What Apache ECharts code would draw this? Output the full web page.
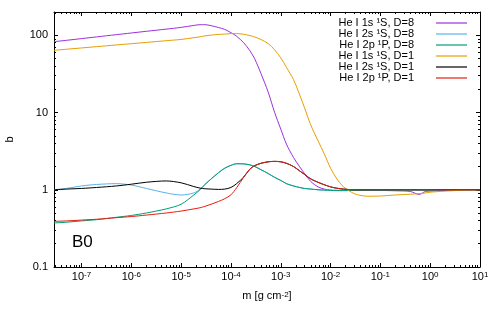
<!DOCTYPE html>
<html><head><meta charset="utf-8">
<script src="https://cdn.jsdelivr.net/npm/echarts@6/dist/echarts.min.js"></script>
<style>html,body{margin:0;padding:0;background:#fff}#c{width:500px;height:314px}</style>
</head><body><div id="c"></div>
<script>
const mass = [2.8e-8, 5e-8, 1e-7, 2e-7, 5e-7, 1e-6, 2e-6, 5e-6, 1e-5, 1.8e-5, 2.4e-5, 3e-5, 4e-5, 5.6e-5, 7.5e-5, 1e-4, 1.3e-4, 1.8e-4, 2.4e-4, 3e-4, 4e-4, 5.6e-4, 7.5e-4, 1e-3, 1.3e-3, 1.8e-3, 2.4e-3, 3e-3, 4e-3, 5.6e-3, 7.5e-3, 1e-2, 1.3e-2, 1.8e-2, 3e-2, 5.6e-2, 1e-1, 2e-1, 4e-1, 6e-1, 8e-1, 1, 2, 5, 10];
const he1sD8 = [82.6, 86, 90.5, 95.2, 101.8, 107, 112.5, 120, 126.5, 134, 137, 137, 133, 126, 119, 108, 97, 80, 63, 49.5, 32, 18.3, 10.1, 6.1, 3.9, 2.62, 1.98, 1.62, 1.28, 1.09, 1.02, 0.99, 0.985, 0.98, 0.98, 0.99, 0.98, 0.97, 0.95, 0.87, 0.95, 0.96, 0.98, 1.0, 1.0];
const he2sD8 = [1.0, 1.04, 1.12, 1.17, 1.20, 1.15, 1.04, 0.91, 0.855, 0.91, 1.02, 1.17, 1.38, 1.66, 1.9, 2.07, 2.17, 2.16, 2.1, 2.0, 1.82, 1.62, 1.45, 1.32, 1.2, 1.12, 1.07, 1.04, 1.02, 1.0, 0.99, 0.98, 0.975, 0.975, 0.98, 0.985, 0.985, 0.99, 0.99, 0.99, 0.99, 0.99, 1.0, 1.0, 1.0];
const he2pD8 = [0.372, 0.38, 0.395, 0.41, 0.44, 0.465, 0.50, 0.565, 0.65, 0.857, 1.0, 1.17, 1.38, 1.66, 1.9, 2.07, 2.17, 2.16, 2.1, 2.0, 1.82, 1.62, 1.45, 1.32, 1.2, 1.12, 1.07, 1.04, 1.02, 1.0, 0.99, 0.98, 0.975, 0.975, 0.98, 0.985, 0.985, 0.99, 0.99, 0.99, 0.99, 0.99, 1.0, 1.0, 1.0];
const he1sD1 = [63.8, 65.9, 68.5, 71.2, 74.9, 77.8, 80.8, 85, 88.3, 93, 95.5, 98, 100.5, 102.5, 103.5, 105, 105, 103, 99, 95, 88, 78, 65, 51, 38.5, 26.7, 16.9, 11.5, 6.9, 4.3, 2.9, 1.9, 1.42, 1.1, 0.89, 0.824, 0.83, 0.855, 0.875, 0.89, 0.91, 0.93, 0.96, 0.99, 1.0];
const he2sD1 = [1.0, 1.02, 1.04, 1.07, 1.12, 1.18, 1.25, 1.30, 1.23, 1.10, 1.05, 1.03, 1.02, 1.01, 1.02, 1.07, 1.2, 1.46, 1.85, 2.05, 2.2, 2.3, 2.33, 2.3, 2.2, 2.0, 1.75, 1.58, 1.38, 1.25, 1.16, 1.09, 1.05, 1.02, 1.0, 1.0, 1.0, 1.0, 1.0, 1.0, 1.0, 1.0, 1.0, 1.0, 1.0];
const he2pD1 = [0.39, 0.395, 0.405, 0.415, 0.435, 0.45, 0.47, 0.50, 0.53, 0.565, 0.585, 0.61, 0.65, 0.705, 0.765, 0.86, 1.06, 1.45, 1.85, 2.05, 2.2, 2.3, 2.33, 2.3, 2.2, 2.0, 1.75, 1.58, 1.38, 1.25, 1.16, 1.09, 1.05, 1.02, 1.0, 1.0, 1.0, 1.0, 1.0, 1.0, 1.0, 1.0, 1.0, 1.0, 1.0];
const seriesNames = ['He I 1s 1S, D=8', 'He I 2s 1S, D=8', 'He I 2p 1P, D=8', 'He I 1s 1S, D=1', 'He I 2s 1S, D=1', 'He I 2p 1P, D=1'];
const legendLabels = ['He I 1s \u00b9S, D=8', 'He I 2s \u00b9S, D=8', 'He I 2p \u00b9P, D=8', 'He I 1s \u00b9S, D=1', 'He I 2s \u00b9S, D=1', 'He I 2p \u00b9P, D=1'];
const seriesValues = [he1sD8, he2sD8, he2pD8, he1sD1, he2sD1, he2pD1];
const colors = ['#9b30e0', '#56b4e9', '#009e73', '#e69f00', '#000000', '#e51e10'];
const panelLabel = 'B0';
const xName = '{b|m [g cm}{sup|-2}{b|]}';
const yName = 'b';

const FONT = 'Liberation Sans, Arial, sans-serif';
const chart = echarts.init(document.getElementById('c'));
const baseTok = {fontSize: 11, fontFamily: FONT, color: '#000', lineHeight: 11, padding: [4, 0, 0, 0], verticalAlign: 'bottom'};
const supTok = {fontSize: 8, fontFamily: FONT, color: '#000', lineHeight: 8, verticalAlign: 'top'};
const xLabelFmt = v => {
  const e = Math.log10(v);
  if (Math.abs(e - Math.round(e)) > 1e-6) return '';
  return '{b|10}{sup|' + Math.round(e) + '}';
};
const yLabelFmt = v => {
  const e = Math.log10(v);
  if (Math.abs(e - Math.round(e)) > 1e-6) return '';
  return String(+v.toPrecision(3));
};
const axisCommon = {
  type: 'log', logBase: 10,
  axisLine: {show: true, lineStyle: {color: '#000', width: 1}},
  axisTick: {show: true, inside: true, length: 4, lineStyle: {color: '#000'}},
  minorTick: {show: true, splitNumber: 9, length: 2, lineStyle: {color: '#000'}},
  splitLine: {show: false}
};
const option = {
  animation: false,
  backgroundColor: '#fff',
  textStyle: {fontFamily: FONT},
  grid: {left: 54, right: 20, top: 12, bottom: 47, containLabel: false, outerBoundsMode: 'none'},
  legend: {
    right: 28, top: 12.5, orient: 'vertical', align: 'right',
    icon: 'rect', itemWidth: 31, itemHeight: 1.2, itemGap: 0,
    data: seriesNames,
    formatter: n => legendLabels[seriesNames.indexOf(n)],
    textStyle: {fontFamily: FONT, fontSize: 11, color: '#000', lineHeight: 11, padding: [0, 17, 0, 0]}
  },
  xAxis: [
    Object.assign({}, axisCommon, {
      position: 'bottom', min: 2.8e-8, max: 10,
      name: xName, nameLocation: 'middle', nameGap: 20,
      nameTextStyle: {fontSize: 11, color: '#000', fontFamily: FONT, rich: {b: baseTok, sup: supTok}},
      axisLabel: {formatter: xLabelFmt, margin: 4, color: '#000', fontFamily: FONT, fontSize: 11,
        showMinLabel: false, rich: {b: baseTok, sup: supTok}}
    }),
    Object.assign({}, axisCommon, {
      position: 'top', min: 2.8e-8, max: 10, axisLabel: {show: false}
    })
  ],
  yAxis: [
    Object.assign({}, axisCommon, {
      position: 'left', min: 0.1, max: 200,
      name: yName, nameLocation: 'middle', nameGap: 39, nameRotate: 90,
      nameTextStyle: {fontSize: 11, color: '#000', fontFamily: FONT},
      axisLabel: {formatter: yLabelFmt, margin: 6, color: '#000', fontFamily: FONT, fontSize: 11, showMaxLabel: false}
    }),
    Object.assign({}, axisCommon, {
      position: 'right', min: 0.1, max: 200, axisLabel: {show: false}
    })
  ],
  graphic: [{
    type: 'text', left: 72, top: 234,
    style: {text: panelLabel, fontSize: 17, fontFamily: FONT, fill: '#000'}
  }],
  series: seriesNames.map((n, i) => ({
    name: n, type: 'line', xAxisIndex: 0, yAxisIndex: 0,
    data: mass.map((m, j) => [m, seriesValues[i][j]]),
    symbol: 'none', smooth: 0.3,
    lineStyle: {color: colors[i], width: 1},
    itemStyle: {color: colors[i]}
  }))
};
chart.setOption(option);
</script></body></html>
